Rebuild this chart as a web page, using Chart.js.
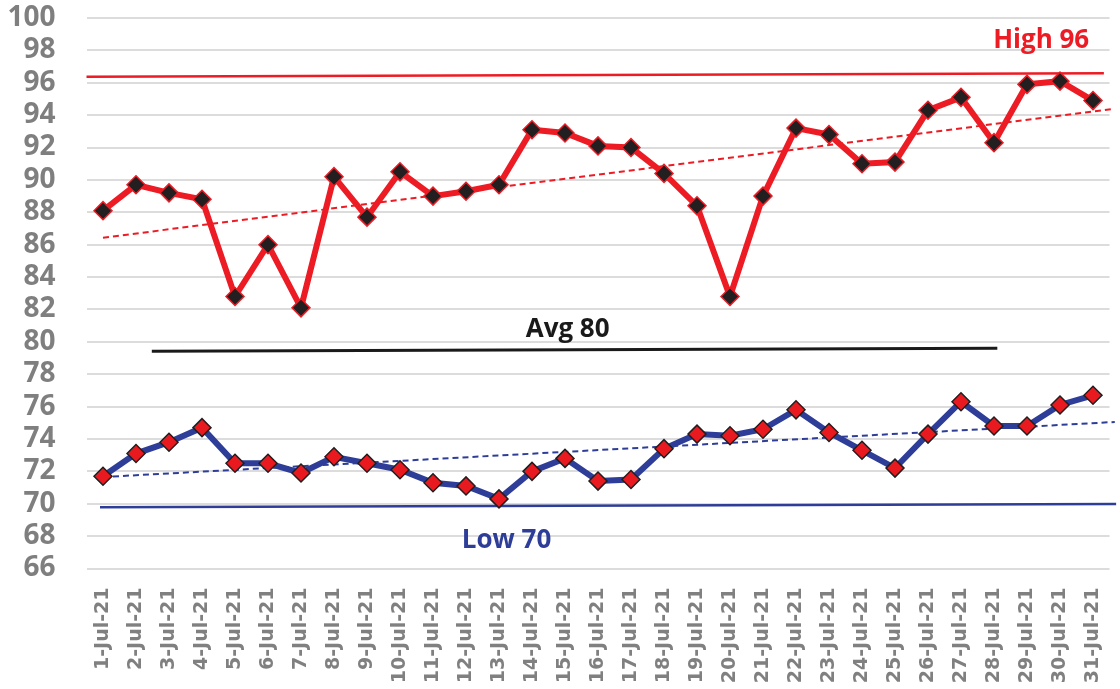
<!DOCTYPE html>
<html>
<head>
<meta charset="utf-8">
<script src="https://cdn.jsdelivr.net/npm/chart.js@4"></script>
<style>
  html, body { margin: 0; padding: 0; background: #fff; }
  canvas { display: block; }
</style>
</head>
<body>
<canvas id="c" width="1120" height="689"></canvas>
<script>
// ---- data ----
const days = ['1-Jul-21','2-Jul-21','3-Jul-21','4-Jul-21','5-Jul-21','6-Jul-21','7-Jul-21','8-Jul-21','9-Jul-21','10-Jul-21',
  '11-Jul-21','12-Jul-21','13-Jul-21','14-Jul-21','15-Jul-21','16-Jul-21','17-Jul-21','18-Jul-21','19-Jul-21','20-Jul-21',
  '21-Jul-21','22-Jul-21','23-Jul-21','24-Jul-21','25-Jul-21','26-Jul-21','27-Jul-21','28-Jul-21','29-Jul-21','30-Jul-21','31-Jul-21'];
const highValues = [88.1, 89.7, 89.2, 88.8, 82.8, 86.0, 82.1, 90.2, 87.7, 90.5,
  89.0, 89.3, 89.7, 93.1, 92.9, 92.1, 92.0, 90.4, 88.4, 82.8,
  89.0, 93.2, 92.8, 91.0, 91.1, 94.3, 95.1, 92.3, 95.9, 96.1, 94.9];
const lowValues = [71.7, 73.1, 73.8, 74.7, 72.5, 72.5, 71.9, 72.9, 72.5, 72.1,
  71.3, 71.1, 70.3, 72.0, 72.8, 71.4, 71.5, 73.4, 74.3, 74.2,
  74.6, 75.8, 74.4, 73.3, 72.2, 74.3, 76.3, 74.8, 74.8, 76.1, 76.7];
// reference / trend lines: [start day, start value, end day, end value]
const highRef   = [0.5, 96.37, 31.33, 96.58];
const avgRef    = [2.48, 79.42, 28.1, 79.6];
const lowRef    = [0.91, 69.79, 31.7, 69.99];
const highTrend = [1, 86.43, 31.66, 94.4];
const lowTrend  = [1, 71.65, 31.66, 75.05];
const yTickValues = [66, 68, 70, 72, 74, 76, 78, 80, 82, 84, 86, 88, 90, 92, 94, 96, 98, 100];
const noteTexts = ['High 96', 'Avg 80', 'Low 70'];

// ---- styling ----
const RED = '#ED1C24';
const BLUE = '#2E3E98';
const notes = [
  { text: noteTexts[0], x: 29.43, y: 98.15, color: RED },
  { text: noteTexts[1], x: 15.08, y: 80.3, color: '#1a1a1a' },
  { text: noteTexts[2], x: 13.23, y: 67.25, color: BLUE }
];
const seg = a => [{ x: a[0], y: a[1] }, { x: a[2], y: a[3] }];
const pts = arr => arr.map((v, i) => ({ x: i + 1, y: v }));

const notePlugin = {
  id: 'notes',
  afterDatasetsDraw(chart) {
    const { ctx, scales } = chart;
    ctx.save();
    ctx.font = 'bold 26px "Open Sans"';
    ctx.textAlign = 'center';
    ctx.textBaseline = 'alphabetic';
    notes.forEach(n => {
      ctx.fillStyle = n.color;
      ctx.fillText(n.text, scales.x.getPixelForValue(n.x), scales.y.getPixelForValue(n.y));
    });
    ctx.restore();
  }
};

new Chart(document.getElementById('c'), {
  type: 'line',
  data: {
    datasets: [
      { data: pts(highValues), borderColor: RED, borderWidth: 6, pointStyle: 'rectRot', pointRadius: 9,
        pointBackgroundColor: '#231F20', pointBorderColor: RED, pointBorderWidth: 1.5, order: 1 },
      { data: pts(lowValues), borderColor: BLUE, borderWidth: 6, pointStyle: 'rectRot', pointRadius: 9,
        pointBackgroundColor: '#E8191F', pointBorderColor: '#231F20', pointBorderWidth: 1.5, order: 1 },
      { data: seg(highTrend), borderColor: RED, borderWidth: 2, borderDash: [6, 4], pointRadius: 0, order: 2, clip: false },
      { data: seg(lowTrend), borderColor: BLUE, borderWidth: 2, borderDash: [6, 4], pointRadius: 0, order: 2, clip: false },
      { data: seg(highRef), borderColor: RED, borderWidth: 2.5, pointRadius: 0, order: 3, clip: false },
      { data: seg(avgRef), borderColor: '#1a1a1a', borderWidth: 3, pointRadius: 0, order: 3, clip: false },
      { data: seg(lowRef), borderColor: BLUE, borderWidth: 2.5, pointRadius: 0, order: 3, clip: false }
    ]
  },
  options: {
    responsive: false,
    animation: false,
    events: [],
    layout: { padding: { top: 18, right: 7, bottom: 0, left: 0 } },
    plugins: { legend: { display: false }, tooltip: { enabled: false } },
    elements: { line: { tension: 0, borderCapStyle: 'butt', borderJoinStyle: 'miter' } },
    scales: {
      x: {
        type: 'linear',
        min: 0.5,
        max: 31.5,
        afterBuildTicks: s => { s.ticks = days.map((_, i) => ({ value: i + 1 })); },
        afterFit: s => { s.height = 120.5; },
        grid: { display: true, color: 'rgba(0,0,0,0)', drawOnChartArea: false, drawTicks: true, tickLength: 19, tickColor: 'rgba(0,0,0,0)' },
        border: { display: false },
        ticks: {
          autoSkip: false,
          maxRotation: 90,
          minRotation: 90,
          padding: 0,
          color: '#808080',
          font: { family: 'DejaVu Sans', weight: 'bold', size: 19 },
          callback: v => days[v - 1] || ''
        }
      },
      y: {
        min: 66,
        max: 100,
        afterBuildTicks: s => { s.ticks = yTickValues.map(v => ({ value: v })); },
        afterFit: s => { s.width = 86.5; },
        grid: { color: '#DCDCDC', lineWidth: 2, drawTicks: true, tickLength: 31, tickColor: 'rgba(0,0,0,0)' },
        border: { display: false },
        ticks: {
          autoSkip: false,
          padding: 0,
          color: '#7F7F7F',
          font: { family: 'Open Sans', weight: 'bold', size: 28 }
        }
      }
    }
  },
  plugins: [notePlugin]
});
</script>
</body>
</html>
